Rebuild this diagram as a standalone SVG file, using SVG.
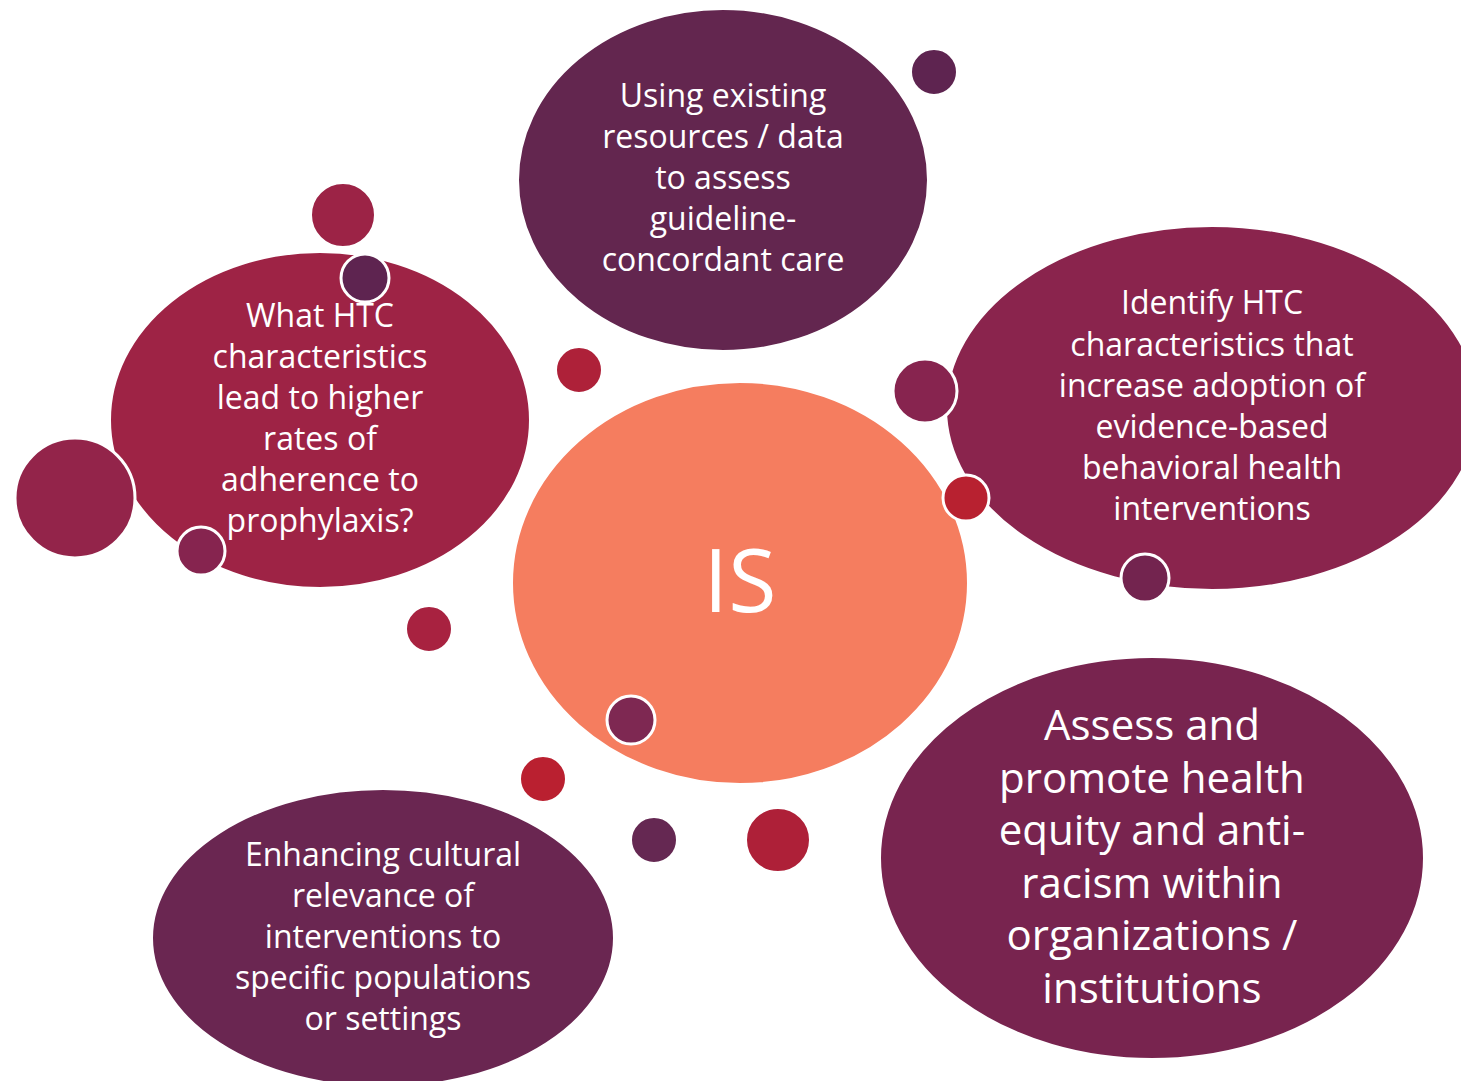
<svg xmlns="http://www.w3.org/2000/svg" width="1461" height="1081" viewBox="0 0 1461 1081">
<style>
.big{stroke:#fff;stroke-width:2}
.dot{stroke:#fff;stroke-width:2}
.ring{stroke:#fff;stroke-width:3}
text{font-family:"Open Sans","Liberation Sans",sans-serif;fill:#fff;text-anchor:middle}
.t{font-size:32px}
.tb{font-size:42px}
.is{font-size:88px}
</style>
<rect width="1461" height="1081" fill="#fff"/>
<g id="node-top">
<ellipse class="big" cx="723" cy="180" rx="205" ry="171" fill="#63264F"/>
<text class="t"><tspan x="723" y="107">Using existing</tspan><tspan x="723" y="148">resources / data</tspan><tspan x="723" y="189">to assess</tspan><tspan x="723" y="230">guideline-</tspan><tspan x="723" y="271">concordant care</tspan></text>
</g>
<g id="node-left">
<ellipse class="big" cx="320" cy="420" rx="210" ry="168" fill="#9E2345"/>
<text class="t"><tspan x="320" y="327">What HTC</tspan><tspan x="320" y="368">characteristics</tspan><tspan x="320" y="409">lead to higher</tspan><tspan x="320" y="450">rates of</tspan><tspan x="320" y="491">adherence to</tspan><tspan x="320" y="532">prophylaxis?</tspan></text>
</g>
<g id="node-right">
<ellipse class="big" cx="1212" cy="408" rx="266" ry="182" fill="#8A244D"/>
<text class="t"><tspan x="1212" y="314">Identify HTC</tspan><tspan x="1212" y="356">characteristics that</tspan><tspan x="1212" y="397">increase adoption of</tspan><tspan x="1212" y="438">evidence-based</tspan><tspan x="1212" y="479">behavioral health</tspan><tspan x="1212" y="520">interventions</tspan></text>
</g>
<g id="node-bottom-right">
<ellipse class="big" cx="1152" cy="858" rx="272" ry="201" fill="#78244F"/>
<text class="tb"><tspan x="1152" y="740">Assess and</tspan><tspan x="1152" y="793">promote health</tspan><tspan x="1152" y="845">equity and anti-</tspan><tspan x="1152" y="898">racism within</tspan><tspan x="1152" y="950">organizations /</tspan><tspan x="1152" y="1003">institutions</tspan></text>
</g>
<g id="node-bottom-left">
<ellipse class="big" cx="383" cy="938" rx="231" ry="149" fill="#6A2651"/>
<text class="t"><tspan x="383" y="866">Enhancing cultural</tspan><tspan x="383" y="907">relevance of</tspan><tspan x="383" y="948">interventions to</tspan><tspan x="383" y="989">specific populations</tspan><tspan x="383" y="1030">or settings</tspan></text>
</g>
<g id="node-center">
<ellipse class="big" cx="740" cy="583" rx="228" ry="201" fill="#F57D5F"/>
<text class="is" x="740" y="612">IS</text>
</g>
<g id="connectors">
<circle class="dot" cx="934" cy="72" r="23" fill="#5E2450"/>
<circle class="dot" cx="343" cy="215" r="32" fill="#9C2346"/>
<circle class="ring" cx="365" cy="278" r="24" fill="#5E2450"/>
<circle class="dot" cx="579" cy="370" r="23" fill="#AE2139"/>
<circle class="ring" cx="925" cy="391" r="32" fill="#87244F"/>
<circle class="ring" cx="966" cy="498" r="23" fill="#B82130"/>
<circle class="ring" cx="75" cy="498" r="60" fill="#93244A"/>
<circle class="ring" cx="201" cy="551" r="24" fill="#86244F"/>
<circle class="ring" cx="1145" cy="578" r="24" fill="#73244F"/>
<circle class="dot" cx="429" cy="629" r="23" fill="#A82240"/>
<circle class="ring" cx="631" cy="720" r="24" fill="#7E2852"/>
<circle class="dot" cx="543" cy="779" r="23" fill="#BA2030"/>
<circle class="dot" cx="654" cy="840" r="23" fill="#652852"/>
<circle class="dot" cx="778" cy="840" r="32" fill="#AE2038"/>
</g>
</svg>
